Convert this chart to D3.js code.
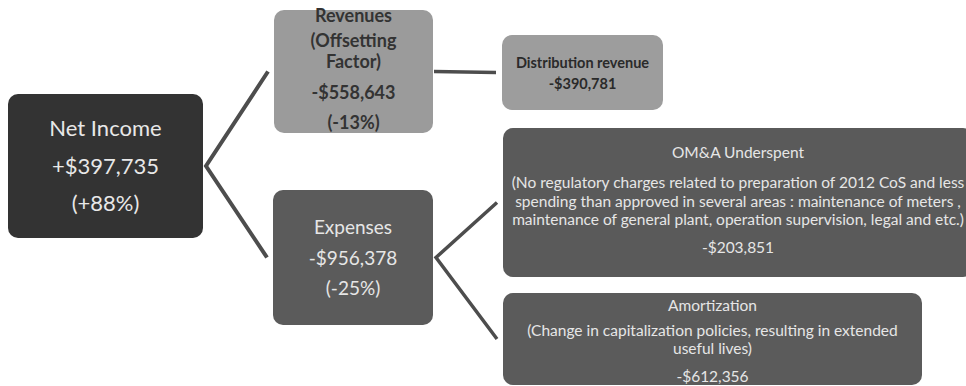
<!DOCTYPE html>
<html>
<head>
<meta charset="utf-8">
<script src="https://cdn.jsdelivr.net/npm/d3@7/dist/d3.min.js"></script>
<style>
  html, body { margin: 0; padding: 0; background: #fff; }
  svg { display: block; font-family: Lato, "Open Sans", sans-serif; }
</style>
</head>
<body>
<div id="chart"></div>
<script>
// Variance breakdown data
const nodeIds = ["net", "rev", "dist", "exp", "oma", "amort"];
const nodeParents = [null, "net", "rev", "net", "exp", "exp"];
const nodeTitles = [
    ["Net Income"],
    ["Revenues", "(Offsetting", "Factor)"],
    ["Distribution revenue"],
    ["Expenses"],
    ["OM&A Underspent"],
    ["Amortization"]
];
const nodeNotes = [
    [],
    [],
    [],
    [],
    ["(No regulatory charges related to preparation of 2012 CoS and  less",
     "spending than approved in several areas : maintenance of meters ,",
     "maintenance of general plant, operation supervision,  legal and etc.)"],
    ["(Change in capitalization policies, resulting in extended",
     "useful lives)"]
];
const nodeAmounts = ["+$397,735", "-$558,643", "-$390,781", "-$956,378", "-$203,851", "-$612,356"];
const nodePercents = ["(+88%)", "(-13%)", "", "(-25%)", "", ""];

// Box geometry (layout only) and text style per node; offs = line offsets from box centre
const layout = {
    net:   { x: 8,   y: 94,  w: 195, h: 144, fill: "#333333", color: "#e8e8e8", size: 22, weight: 400, offs: [-38, 0, 37] },
    rev:   { x: 274, y: 10,  w: 159, h: 123, fill: "#9b9b9b", color: "#333333", size: 18, weight: 700, offs: [-56, -31, -10, 21, 51] },
    dist:  { x: 502, y: 35,  w: 161, h: 75,  fill: "#9d9d9d", color: "#2a2a2a", size: 14.5, weight: 700, offs: [-10, 11] },
    exp:   { x: 273, y: 190, w: 160, h: 135, fill: "#5b5b5b", color: "#e6e6e6", size: 19, weight: 400, offs: [-30, 1, 31] },
    oma:   { x: 503, y: 128, w: 470, h: 149, fill: "#5a5a5a", color: "#e6e6e6", size: 15.5, weight: 400, offs: [-50, -20, -1, 17.5, 45] },
    amort: { x: 503, y: 293, w: 419, h: 92,  fill: "#5b5b5b", color: "#e6e6e6", size: 15.5, weight: 400, offs: [-33, -8, 10, 38] }
};

const width = 966, height = 386;

const svg = d3.select("#chart").append("svg")
    .attr("width", width)
    .attr("height", height)
    .attr("viewBox", [0, 0, width, height]);

const nodes = nodeIds.map((id, i) => ({
    id,
    parent: nodeParents[i],
    texts: [...nodeTitles[i], ...nodeNotes[i], nodeAmounts[i], nodePercents[i]].filter(s => s !== ""),
    ...layout[id]
}));
const byId = new Map(nodes.map(d => [d.id, d]));

// Connectors: from parent's right edge to each child's left edge
const line = d3.line();
const connectors = nodeIds
    .filter(id => nodes.some(n => n.parent === id))
    .map(id => {
        const p = byId.get(id);
        const kids = nodes.filter(n => n.parent === id);
        const vertex = [p.x + p.w + (kids.length > 1 ? 3 : 1), p.y + p.h / 2];
        const ends = kids.map(k => [k.x - 6, k.y + k.h / 2]);
        const pts = ends.length > 1 ? [ends[0], vertex, ends[1]] : [vertex, ends[0]];
        return { id, pts, sw: id === "net" ? 4 : 3.5 };
    });

svg.append("g")
    .selectAll("path")
    .data(connectors)
    .join("path")
    .attr("d", d => line(d.pts))
    .attr("fill", "none")
    .attr("stroke", "#4d4d4d")
    .attr("stroke-width", d => d.sw)
    .attr("stroke-linejoin", "miter");

const boxes = svg.append("g")
    .selectAll("g")
    .data(nodes)
    .join("g");

boxes.append("rect")
    .attr("x", d => d.x)
    .attr("y", d => d.y)
    .attr("width", d => d.w)
    .attr("height", d => d.h)
    .attr("rx", 10)
    .attr("fill", d => d.fill);

boxes.each(function(d) {
    const cx = d.x + d.w / 2, cy = d.y + d.h / 2;
    d3.select(this).selectAll("text")
        .data(d.texts)
        .join("text")
        .attr("x", cx)
        .attr("y", (s, i) => cy + d.offs[i])
        .attr("dy", "0.35em")
        .attr("text-anchor", "middle")
        .attr("font-size", d.size)
        .attr("font-weight", d.weight)
        .attr("fill", d.color)
        .text(s => s);
});
</script>
</body>
</html>
